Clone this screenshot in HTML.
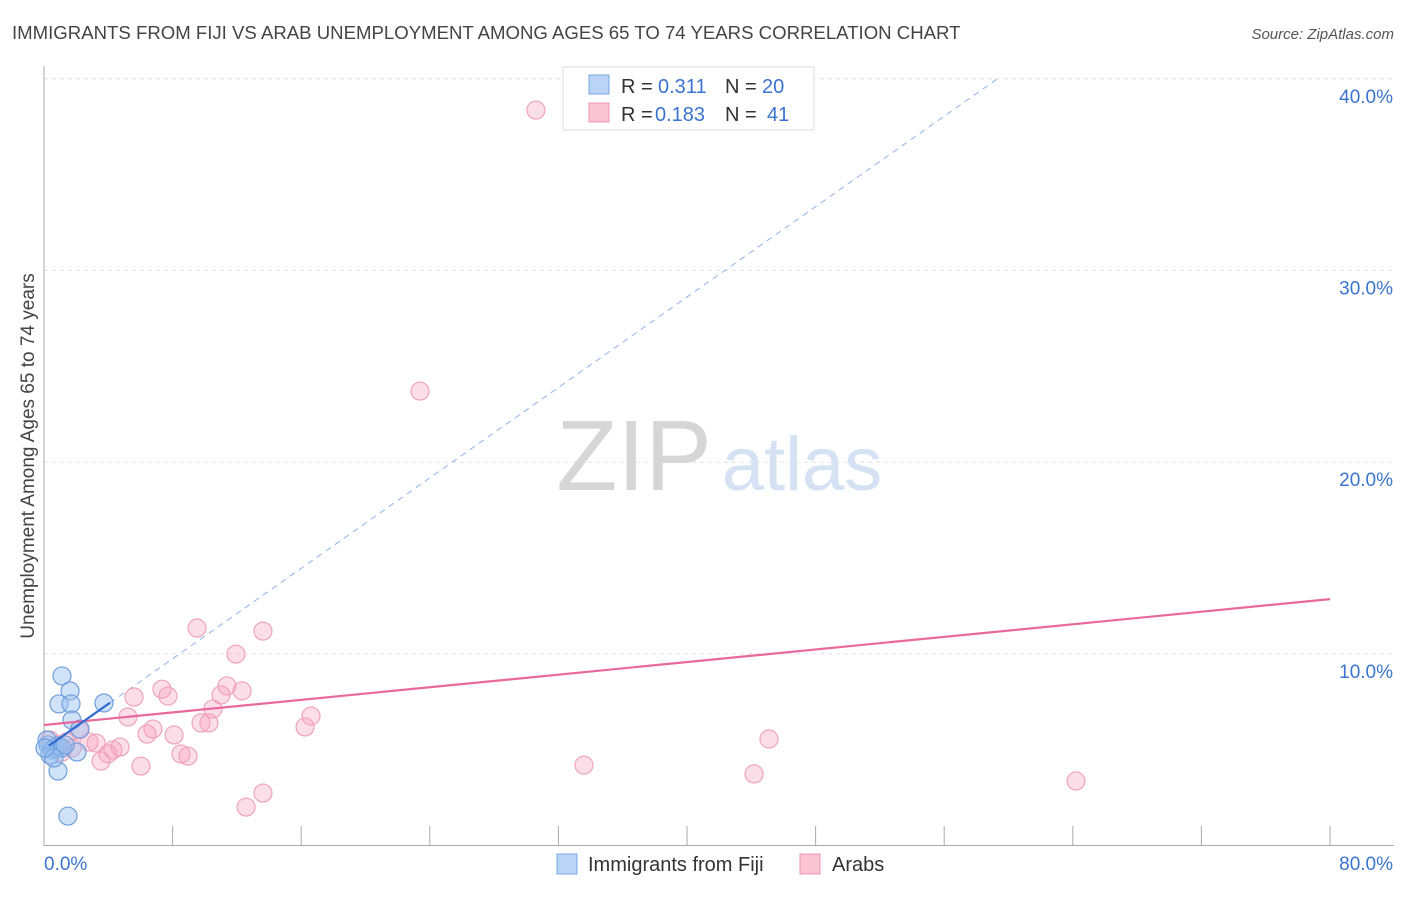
<!DOCTYPE html>
<html><head><meta charset="utf-8"><style>
html,body{margin:0;padding:0;background:#fff;}
body{width:1406px;height:892px;overflow:hidden;font-family:"Liberation Sans",sans-serif;}
text{font-family:"Liberation Sans",sans-serif;}
</style></head><body>
<svg id="chart" width="1406" height="892" xmlns="http://www.w3.org/2000/svg">
<text x="12" y="39" font-size="18.6" fill="#444">IMMIGRANTS FROM FIJI VS ARAB UNEMPLOYMENT AMONG AGES 65 TO 74 YEARS CORRELATION CHART</text>
<text x="1394" y="39" font-size="15" fill="#555" text-anchor="end" font-style="italic">Source: ZipAtlas.com</text>
<g id="grid"></g>
<g>
<text x="634" y="490" font-size="100" fill="#d6d6d6" text-anchor="middle" font-family="Liberation Serif, serif">ZIP</text>
<text x="802" y="490" font-size="76" fill="#d4e2f4" text-anchor="middle">atlas</text>
</g>
<g id="axes"></g>
<g id="lines"></g>
<g id="points"></g>
<text transform="translate(34,456) rotate(-90)" font-size="19" fill="#444" text-anchor="middle">Unemployment Among Ages 65 to 74 years</text>
<g>
<rect x="563" y="67" width="251" height="63" fill="#fff" stroke="#ddd"/>
<rect x="589" y="75" width="20" height="19" fill="#b9d4f5" stroke="#7aa8e0"/>
<rect x="589" y="103" width="20" height="19" fill="#fac4d3" stroke="#ee94b0"/>
<text x="621" y="93" font-size="20" fill="#333">R = </text><text x="658" y="93" font-size="20" fill="#3b74d0">0.311</text>
<text x="725" y="93" font-size="20" fill="#333">N = </text><text x="762" y="93" font-size="20" fill="#3b74d0">20</text>
<text x="621" y="121" font-size="20" fill="#333">R = </text><text x="655" y="121" font-size="20" fill="#3b74d0">0.183</text>
<text x="725" y="121" font-size="20" fill="#333">N = </text><text x="767" y="121" font-size="20" fill="#3b74d0">41</text>
</g>
<g>
<rect x="557" y="854" width="20" height="20" fill="#b9d4f5" stroke="#7aa8e0"/>
<text x="588" y="871" font-size="20" fill="#333">Immigrants from Fiji</text>
<rect x="800" y="854" width="20" height="20" fill="#fac4d3" stroke="#ee94b0"/>
<text x="832" y="871" font-size="20" fill="#333">Arabs</text>
</g>
</svg>
<script>
const fijiX=[1.12,1.62,0.93,1.68,3.73,1.74,2.24,2.05,0.87,1.49,0.25,0.5,0.68,0.87,0.37,0.19,1.12,1.31,0.62,0.06];
const fijiY=[8.85,8.07,7.39,7.39,7.44,6.55,6.08,4.88,3.89,1.54,5.25,4.99,5.09,5.2,4.73,5.51,5.09,5.25,4.57,5.09];
const arabX=[30.6,23.39,9.52,13.62,11.94,7.34,7.71,11.38,12.32,11.01,5.6,10.51,5.22,16.61,9.77,10.26,16.24,6.78,6.41,8.09,45.1,2.18,2.8,3.24,4.73,4.29,3.98,8.52,8.96,3.55,6.03,33.59,44.17,64.2,13.62,12.57,0.37,0.87,1.37,1.74,1.12];
const arabY=[38.37,23.71,11.35,11.19,9.99,8.16,7.8,8.33,8.07,7.86,7.75,7.13,6.71,6.76,6.4,6.4,6.19,6.08,5.82,5.77,5.56,6.03,5.4,5.35,5.14,4.99,4.78,4.78,4.67,4.41,4.15,4.2,3.74,3.37,2.74,2.01,5.51,5.25,5.4,5.09,4.88];
const yTicks=[10,20,30,40];
const yTickLabels=["10.0%","20.0%","30.0%","40.0%"];
const xTickLabels=["0.0%","80.0%"];
const fijiFit=[5.03,0.5896];
const arabFit=[6.29,0.0821];
const NS="http://www.w3.org/2000/svg";
const sx=v=>44+v*16.075, sy=v=>845.6-v*19.17;
function mk(tag,attrs,parent){const e=document.createElementNS(NS,tag);for(const k in attrs)e.setAttribute(k,attrs[k]);parent.appendChild(e);return e;}
const grid=document.getElementById('grid'),axes=document.getElementById('axes');
yTicks.forEach((t,i)=>{
  const l=mk('line',{x1:44,x2:1394,y1:sy(t),y2:sy(t),stroke:'#e2e2e2','stroke-dasharray':'4,4'},grid);
  
  
  const tx=mk('text',{x:1393,y:sy(t)+24,'font-size':19,fill:'#3b74d0','text-anchor':'end'},axes);
  tx.textContent=yTickLabels[i];
  
  
});
mk('line',{x1:44,x2:44,y1:66,y2:846,stroke:'#aaa'},axes);
mk('line',{x1:44,x2:1394,y1:845.5,y2:845.5,stroke:'#aaa'},axes);
for(let i=1;i<=10;i++){mk('line',{x1:sx(i*8),x2:sx(i*8),y1:826,y2:846,stroke:'#aaa'},axes);}
const xl0=mk('text',{x:44,y:870,'font-size':19,fill:'#3b74d0'},axes);xl0.textContent=xTickLabels[0];


const xl1=mk('text',{x:1393,y:870,'font-size':19,fill:'#3b74d0','text-anchor':'end'},axes);xl1.textContent=xTickLabels[1];


const lines=document.getElementById('lines'),pts=document.getElementById('points');
const xEnd=(40-fijiFit[0])/fijiFit[1];
const d=mk('line',{x1:sx(4.1),y1:sy(fijiFit[0]+fijiFit[1]*4.1),x2:sx(xEnd),y2:sy(40),stroke:'#8fb3e6','stroke-width':1,'stroke-dasharray':'6,5'},lines);


arabX.forEach((x,i)=>{
  const c=mk('circle',{cx:sx(x),cy:sy(arabY[i]),r:9,fill:'rgba(246,160,188,0.35)',stroke:'#f0a3bb','stroke-width':1.2},pts);
  
  
});
fijiX.forEach((x,i)=>{
  const c=mk('circle',{cx:sx(x),cy:sy(fijiY[i]),r:9,fill:'rgba(150,190,240,0.45)',stroke:'#6f9fdd','stroke-width':1.2},pts);
  
  
});
const a=mk('line',{x1:sx(0),y1:sy(arabFit[0]),x2:sx(80),y2:sy(arabFit[0]+arabFit[1]*80),stroke:'#e8699a','stroke-width':2.2},pts);


const f=mk('line',{x1:sx(0.3),y1:sy(fijiFit[0]+fijiFit[1]*0.3),x2:sx(4.1),y2:sy(fijiFit[0]+fijiFit[1]*4.1),stroke:'#2f6ad0','stroke-width':2.2},pts);


</script>
</body></html>
